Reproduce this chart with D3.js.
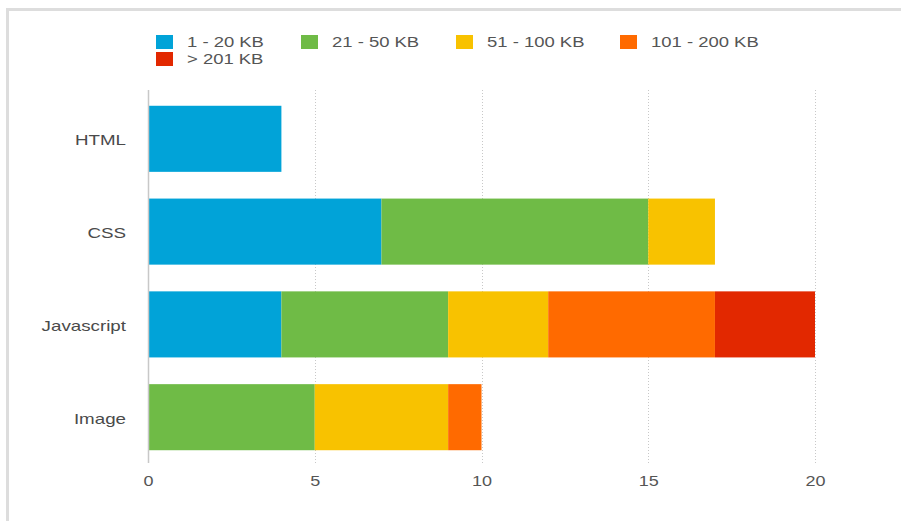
<!DOCTYPE html>
<html>
<head>
<meta charset="utf-8">
<script src="https://cdn.jsdelivr.net/npm/d3@7"></script>
<style>
  html, body { margin: 0; padding: 0; background: #fff; }
  svg { display: block; font-family: "Liberation Sans", Arial, Helvetica, sans-serif; }
</style>
</head>
<body>
<svg id="chart" width="901" height="521"></svg>
<script>
// File types on the y axis, size buckets stacked along x
const categories = ["HTML", "CSS", "Javascript", "Image"];
const seriesNames = ["1 - 20 KB", "21 - 50 KB", "51 - 100 KB", "101 - 200 KB", "> 201 KB"];
const seriesColors = ["#01a3d8", "#6fbb46", "#f8c200", "#ff6a00", "#e22800"];
const kb1to20    = [4, 7, 4, 0];
const kb21to50   = [0, 8, 5, 5];
const kb51to100  = [0, 2, 3, 4];
const kb101to200 = [0, 0, 5, 1];
const kbOver201  = [0, 0, 3, 0];
const xTicks = [0, 5, 10, 15, 20];

const seriesValues = [kb1to20, kb21to50, kb51to100, kb101to200, kbOver201];
const rows = categories.map((c, i) => {
  const r = { category: c };
  seriesNames.forEach((s, k) => { r[s] = seriesValues[k][i]; });
  return r;
});
const stacked = d3.stack().keys(seriesNames)(rows);

const svg = d3.select("#chart");

// widen text horizontally (wide grotesque look)
function widen(sel, factor) {
  sel.each(function () {
    const len = this.getComputedTextLength();
    d3.select(this)
      .attr("textLength", len * factor)
      .attr("lengthAdjust", "spacingAndGlyphs");
  });
}

// outer frame (top and left edges visible)
svg.append("rect")
  .attr("x", 7.5).attr("y", 9.5)
  .attr("width", 1000).attr("height", 1000)
  .attr("fill", "none").attr("stroke", "#dddddd").attr("stroke-width", 3);

const x = d3.scaleLinear().domain([0, 20]).range([148, 815]);
const y = d3.scaleBand().domain(categories).range([90, 466])
  .paddingInner(0.288).paddingOuter(0.17);

// vertical grid lines
svg.append("g").selectAll("line")
  .data(xTicks.filter(t => t > 0))
  .join("line")
  .attr("x1", d => Math.round(x(d)) + 0.5).attr("x2", d => Math.round(x(d)) + 0.5)
  .attr("y1", 90).attr("y2", 463)
  .attr("stroke", "#c8c8c8").attr("stroke-width", 1)
  .attr("stroke-dasharray", "1,2");

// bars
svg.append("g").selectAll("g")
  .data(stacked)
  .join("g")
  .attr("fill", (d, i) => seriesColors[i])
  .selectAll("rect")
  .data(d => d)
  .join("rect")
  .attr("x", d => x(d[0]))
  .attr("y", d => y(d.data.category))
  .attr("width", d => x(d[1]) - x(d[0]))
  .attr("height", y.bandwidth());

// value axis baseline
svg.append("line")
  .attr("x1", 148.5).attr("x2", 148.5)
  .attr("y1", 90).attr("y2", 463)
  .attr("stroke", "#c8c8c8").attr("stroke-width", 1.5);

// x tick labels
const xAxis = d3.axisBottom(x).tickValues(xTicks).tickSize(0).tickPadding(0);
const xg = svg.append("g").attr("transform", "translate(0,475)").call(xAxis);
xg.select(".domain").remove();
xg.selectAll("text")
  .attr("dy", "0.71em")
  .attr("font-size", 15)
  .attr("fill", "#555")
  .attr("font-family", "Liberation Sans, Arial, sans-serif")
  .call(widen, 1.2);

// category labels
const yAxis = d3.axisLeft(y).tickSize(0).tickPadding(0);
const yg = svg.append("g").attr("transform", "translate(126,1.5)").call(yAxis);
yg.select(".domain").remove();
yg.selectAll("text")
  .attr("font-size", 15)
  .attr("fill", "#4a4a4a")
  .attr("font-family", "Liberation Sans, Arial, sans-serif")
  .call(widen, 1.25);

// legend
const legendPos = [[156, 35], [301, 35], [456, 35], [620, 35], [156, 52]];
const legend = svg.append("g").selectAll("g")
  .data(seriesNames)
  .join("g")
  .attr("transform", (d, i) => `translate(${legendPos[i][0]},${legendPos[i][1]})`);
legend.append("rect")
  .attr("width", 17).attr("height", 14)
  .attr("fill", (d, i) => seriesColors[i]);
legend.append("text")
  .attr("x", 31).attr("y", 7)
  .attr("dy", "0.35em")
  .attr("font-size", 15)
  .attr("fill", "#555")
  .text(d => d)
  .call(widen, 1.23);
</script>
</body>
</html>
